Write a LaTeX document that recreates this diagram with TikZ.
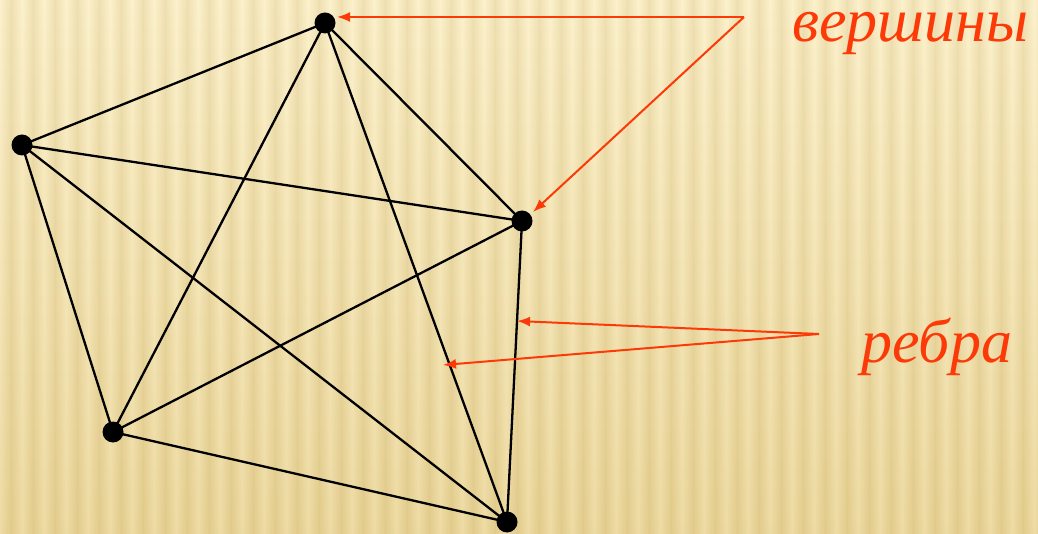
\documentclass[tikz,border=0pt]{standalone}
\usepackage{fontspec}
\setmainfont{Liberation Serif}
\usetikzlibrary{arrows.meta}
\definecolor{bgtop}{RGB}{252,241,204}
\definecolor{bgbot}{RGB}{234,213,152}
\definecolor{stripe}{RGB}{200,172,100}
\definecolor{lblred}{RGB}{252,58,8}
\tikzset{
  vertex/.style={circle,fill=black,inner sep=0pt,minimum size=21pt},
  edge/.style={line width=2.3pt,black},
  pointer/.style={line width=2pt,lblred,-{Latex[length=13pt,width=10pt]}},
  lbl/.style={text=lblred,font=\itshape\fontsize{62}{72}\selectfont,inner sep=0pt,text height=30pt,text depth=14pt}
}
\begin{document}
\begin{tikzpicture}[x=1pt,y=-1pt]
\useasboundingbox (0,0) rectangle (1038,534);
% background
\shade[top color=bgtop,bottom color=bgbot] (0,0) rectangle (1038,534);
\foreach \i in {0,...,47}{
  \shade[left color=bgtop,right color=stripe,opacity=0.24]
    (\i*22,0) rectangle (\i*22+11,534);
  \shade[left color=stripe,right color=bgtop,opacity=0.24]
    (\i*22+11,0) rectangle (\i*22+22,534);
}
% vertices
\node[vertex] (A) at (325,23) {};
\node[vertex] (B) at (22,145) {};
\node[vertex] (C) at (522,221) {};
\node[vertex] (D) at (113,432) {};
\node[vertex] (E) at (507,522) {};
% edges
\foreach \u/\v in {A/B,A/C,A/D,A/E,B/C,B/D,B/E,C/D,C/E,D/E}
  \draw[edge] (\u.center) -- (\v.center);
% labels
\node[lbl,anchor=base west] (vl) at (792,42) {вершины};
\node[lbl,anchor=base west] (el) at (861,362) {ребра};
% pointer coordinates
\coordinate (vtail) at (744,17);
\coordinate (vtipA) at (337,17);
\coordinate (vtipC) at (533,212);
\coordinate (etail) at (819,334);
\coordinate (etip1) at (517,321);
\coordinate (etip2) at (443,365);
\draw[pointer] (vtail) -- (vtipA);
\draw[pointer] (vtail) -- (vtipC);
\draw[pointer] (etail) -- (etip1);
\draw[pointer] (etail) -- (etip2);
\end{tikzpicture}
\end{document}
